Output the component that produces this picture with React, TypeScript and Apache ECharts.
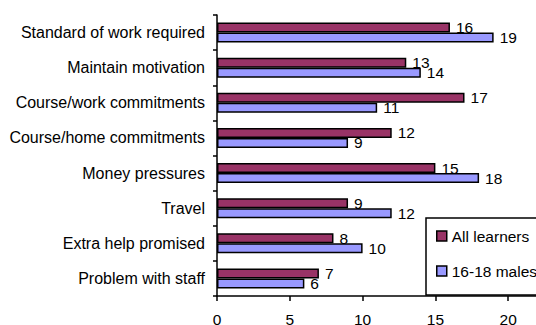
import React, { useEffect, useRef } from "react";
import * as echarts from "echarts";

const categories = [
  "Standard of work required",
  "Maintain motivation",
  "Course/work commitments",
  "Course/home commitments",
  "Money pressures",
  "Travel",
  "Extra help promised",
  "Problem with staff",
];
const allLearners = [16, 13, 17, 12, 15, 9, 8, 7];
const males1618 = [19, 14, 11, 9, 18, 12, 10, 6];
const seriesNames = ["All learners", "16-18 males"];
const xTicks = { min: 0, max: 25, interval: 5 };

const FONT = "'Liberation Sans', Arial, sans-serif";
const FS = 15.5;

export default function App() {
  const ref = useRef<HTMLDivElement>(null);

  useEffect(() => {
    document.body.style.margin = "0";
    if (!ref.current) return;
    const chart = echarts.init(ref.current, null, { renderer: "svg" });

    const label = {
      show: true,
      position: "right" as const,
      distance: 6,
      color: "#000",
      fontSize: FS,
      fontFamily: FONT,
    };

    chart.setOption({
      animation: false,
      backgroundColor: "#fff",
      textStyle: { fontFamily: FONT },
      // plot area runs past the right edge of the canvas
      grid: {
        left: 217,
        top: 15,
        bottom: 29,
        right: -45,
        containLabel: false,
        outerBoundsMode: "none",
      },
      legend: {
        orient: "vertical",
        left: 426,
        top: 218,
        padding: [10, 40, 16, 10],
        itemGap: 19,
        itemWidth: 10,
        itemHeight: 10,
        borderColor: "#000",
        borderWidth: 1.5,
        borderRadius: 0,
        backgroundColor: "#fff",
        icon: "rect",
        itemStyle: { borderColor: "#000", borderWidth: 1.5 },
        textStyle: { fontSize: FS, fontFamily: FONT, color: "#000", lineHeight: 16 },
        data: seriesNames,
      },
      xAxis: {
        type: "value",
        min: xTicks.min,
        max: xTicks.max,
        interval: xTicks.interval,
        axisLine: { show: true, lineStyle: { color: "#000", width: 1.5 } },
        axisTick: { show: true, length: 5, lineStyle: { color: "#000", width: 1.5 } },
        axisLabel: { color: "#000", fontSize: FS, fontFamily: FONT, margin: 15 },
        splitLine: { show: false },
      },
      yAxis: {
        type: "category",
        inverse: true,
        data: categories,
        axisLine: { show: true, lineStyle: { color: "#000", width: 1.5 } },
        axisTick: { show: true, length: 4, lineStyle: { color: "#000", width: 1.5 } },
        axisLabel: { color: "#000", fontSize: 16, fontFamily: FONT, margin: 12 },
      },
      series: [
        {
          name: seriesNames[0],
          type: "bar",
          data: allLearners,
          barWidth: 10,
          barGap: "0%",
          itemStyle: { color: "#993366", borderColor: "#000", borderWidth: 1.5 },
          label,
        },
        {
          name: seriesNames[1],
          type: "bar",
          data: males1618,
          barWidth: 10,
          barGap: "0%",
          itemStyle: { color: "#9999FF", borderColor: "#000", borderWidth: 1.5 },
          label,
        },
      ],
    });

    return () => chart.dispose();
  }, []);

  return <div ref={ref} style={{ width: 536, height: 325 }} />;
}
